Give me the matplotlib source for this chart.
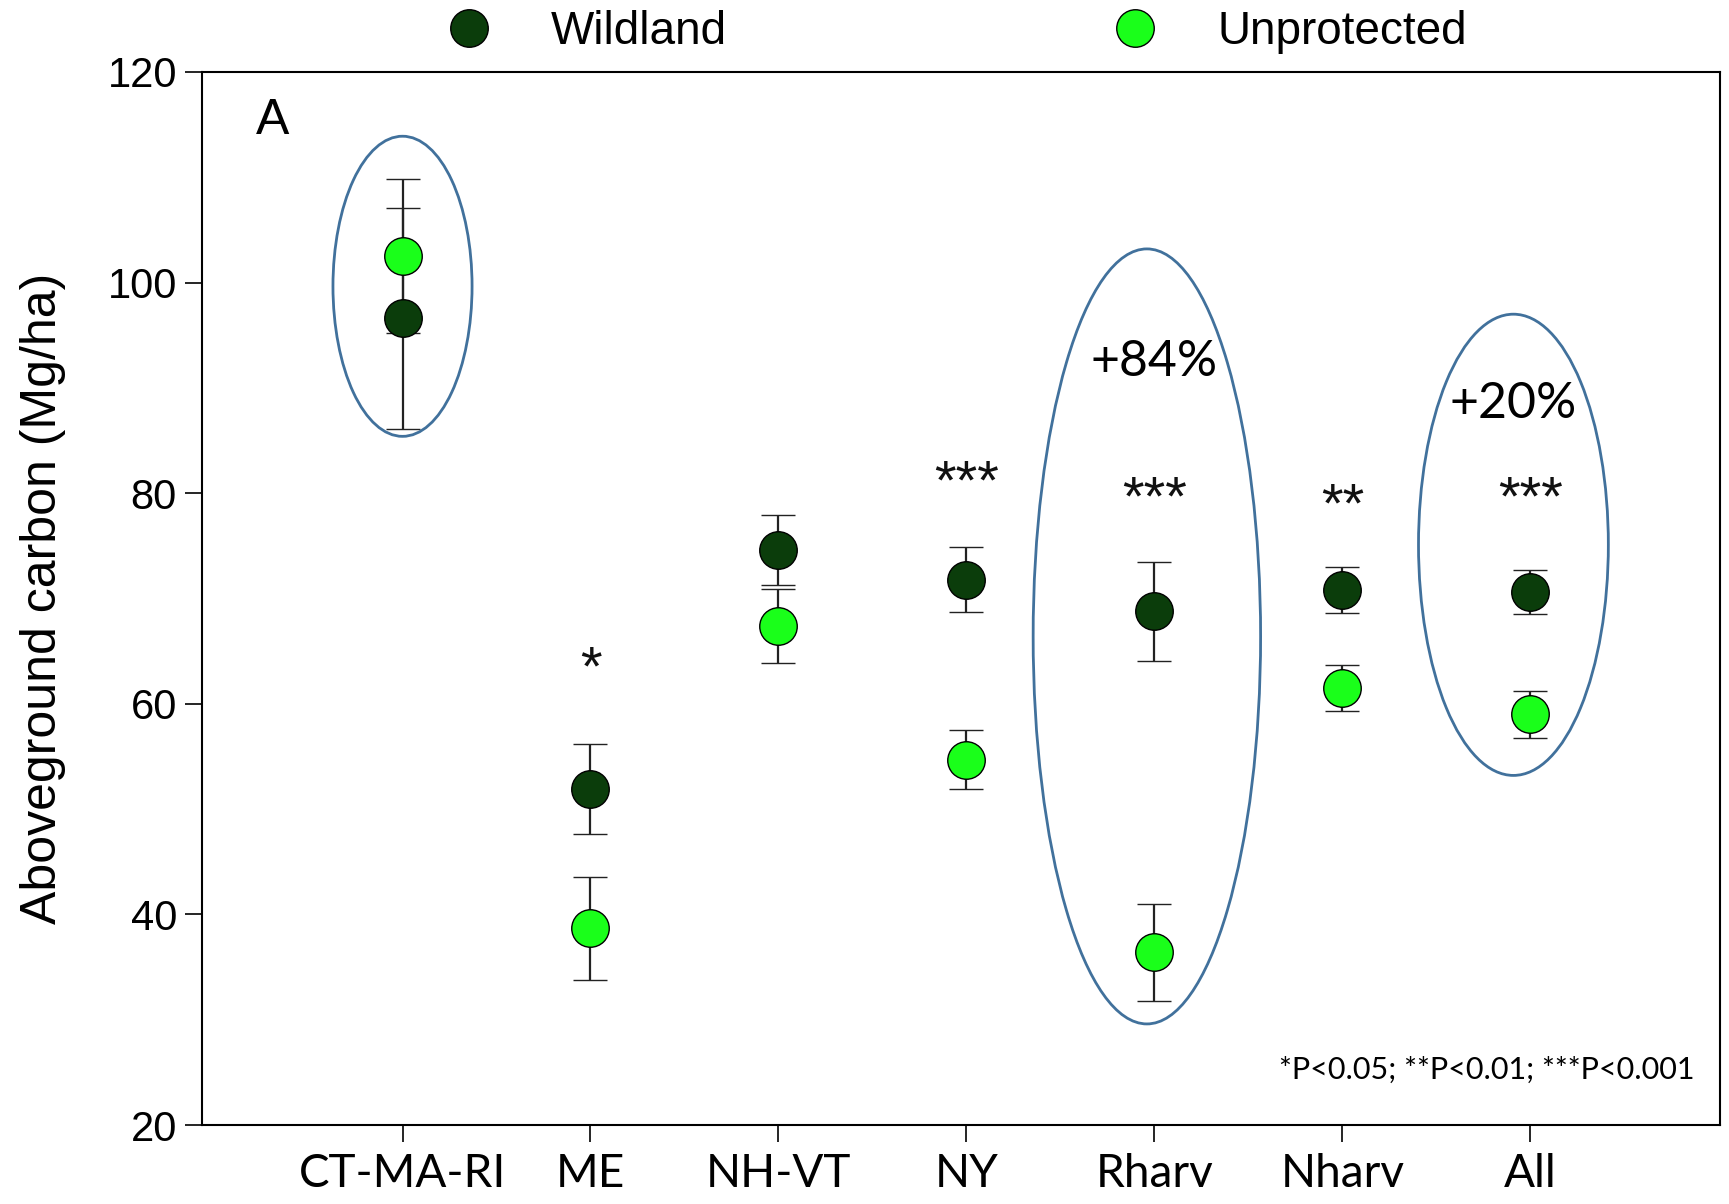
import matplotlib
matplotlib.use("Agg")
import matplotlib.pyplot as plt
from matplotlib.patches import Ellipse
from matplotlib.lines import Line2D

categories = ["CT-MA-RI", "ME", "NH-VT", "NY", "Rharv", "Nharv", "All"]
wild_mean = [96.6, 51.9, 74.6, 71.8, 68.8, 70.8, 70.6]
wild_err = [10.5, 4.3, 3.3, 3.1, 4.7, 2.2, 2.1]
unprot_mean = [102.5, 38.7, 67.4, 54.7, 36.4, 61.5, 59.0]
unprot_err = [7.3, 4.9, 3.5, 2.8, 4.6, 2.2, 2.2]
signif = ["", "*", "", "***", "***", "**", "***"]
signif_y = [0, 61.8, 0, 79.5, 78.0, 77.3, 78.0]
yticks = [20, 40, 60, 80, 100, 120]

ARIAL = "Liberation Sans"
CALIBRI = "Lato"

fig = plt.figure(figsize=(17.29, 12.04), dpi=100)
ax = fig.add_axes([0.1168, 0.0656, 0.8780, 0.8746])

x = list(range(1, len(categories) + 1))

dark = "#0b3d0b"
light = "#1aff1a"
common = dict(fmt="o", ecolor="#222222", elinewidth=1.6, capsize=12, capthick=1.6,
              markersize=27, markeredgecolor="black", markeredgewidth=1.0, zorder=3)
ax.errorbar(x, wild_mean, yerr=wild_err, markerfacecolor=dark, color=dark, **common)
ax.errorbar(x, unprot_mean, yerr=unprot_err, markerfacecolor=light, color=light, **common)

for xi, s, sy in zip(x, signif, signif_y):
    if s:
        ax.text(xi, sy, s, ha="center", va="baseline", fontsize=40, family=ARIAL,
                color="#111111")

# ellipses
ell_color = "#41719c"
ax.add_patch(Ellipse((1.0, 99.65), 0.74, 28.5, fill=False, edgecolor=ell_color, lw=2.0, zorder=4))
ax.add_patch(Ellipse((4.96, 66.4), 1.21, 73.6, fill=False, edgecolor=ell_color, lw=2.0, zorder=4))
ax.add_patch(Ellipse((6.91, 75.1), 1.01, 43.8, fill=False, edgecolor=ell_color, lw=2.0, zorder=4))

ax.text(5.0, 92.5, "+84%", ha="center", va="center", fontsize=36, family=CALIBRI)
ax.text(6.91, 88.5, "+20%", ha="center", va="center", fontsize=36, family=CALIBRI)
ax.text(7.874, 25.2, "*P<0.05; **P<0.01; ***P<0.001", ha="right", va="center",
        fontsize=22, family=CALIBRI)
ax.text(0.308, 115.3, "A", ha="center", va="center", fontsize=36, family=ARIAL)

ax.set_xlim(-0.067, 8.009)
ax.set_ylim(20, 120)
ax.set_xticks(x)
ax.set_xticklabels(categories, fontsize=33, family=CALIBRI)
ax.set_yticks(yticks)
ax.set_yticklabels([str(t) for t in yticks], fontsize=30, family=ARIAL)
ax.tick_params(axis="both", direction="out", length=12, width=1.2, colors="black")
ax.tick_params(axis="x", pad=8)
ax.tick_params(axis="y", pad=6)
for sp in ax.spines.values():
    sp.set_linewidth(1.5)
ax.set_ylabel("Aboveground carbon (Mg/ha)", fontsize=36, family=ARIAL, labelpad=30)

handles = [
    Line2D([], [], marker="o", linestyle="none", markersize=27, markerfacecolor=dark,
           markeredgecolor="black", markeredgewidth=1.0),
    Line2D([], [], marker="o", linestyle="none", markersize=27, markerfacecolor=light,
           markeredgecolor="black", markeredgewidth=1.0),
]
ax.legend(handles, ["Wildland", "Unprotected"], loc="lower center",
          bbox_to_anchor=(0.497, 1.0), ncol=2, frameon=False,
          prop={"family": ARIAL, "size": 33}, columnspacing=8.4, handlelength=1.0,
          handletextpad=1.3, borderaxespad=0.0)

fig.savefig("out.png", dpi=100, facecolor="white")
